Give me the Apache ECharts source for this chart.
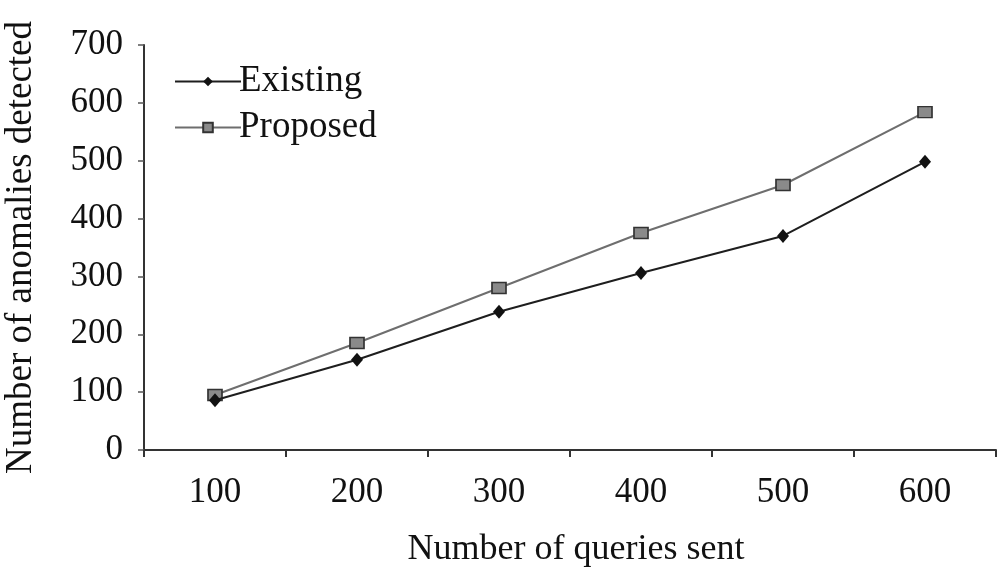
<!DOCTYPE html>
<html>
<head>
<meta charset="utf-8">
<script src="https://cdn.jsdelivr.net/npm/echarts@6/dist/echarts.min.js"></script>
<style>
  html, body { margin: 0; padding: 0; background: #fff; }
  #main { width: 1005px; height: 574px; }
</style>
</head>
<body>
<div id="main"></div>
<script>
const categories = ['100', '200', '300', '400', '500', '600'];
const existing = [86, 156, 239, 306, 370, 498];
const proposed = [95, 185, 280, 375, 458, 584];

const FONT = 'Liberation Serif';
const chart = echarts.init(document.getElementById('main'));

const option = {
  backgroundColor: '#fff',
  animation: false,
  textStyle: { fontFamily: FONT },
  grid: {
    left: 144,
    right: 9,
    top: 45,
    bottom: 124,
    containLabel: false,
    outerBoundsMode: 'none'
  },
  legend: {
    orient: 'vertical',
    left: 174,
    top: 63,
    padding: 0,
    itemWidth: 66,
    itemHeight: 12,
    itemGap: 9,
    textStyle: { fontFamily: FONT, fontSize: 37, color: '#111', padding: [0, 0, 0, -7] },
    data: ['Existing', 'Proposed']
  },
  xAxis: {
    type: 'category',
    data: categories,
    boundaryGap: true,
    name: 'Number of queries sent',
    nameLocation: 'middle',
    nameGap: 82,
    nameTextStyle: { fontFamily: FONT, fontSize: 36, color: '#111', padding: [0, 0, 0, 12] },
    axisLine: { lineStyle: { color: '#333', width: 2 } },
    axisTick: { show: true, inside: false, length: 7, lineStyle: { color: '#333', width: 2 } },
    axisLabel: { fontFamily: FONT, fontSize: 35, color: '#111', margin: 25 },
    splitLine: { show: false }
  },
  yAxis: {
    type: 'value',
    min: 0,
    max: 700,
    interval: 100,
    name: 'Number of anomalies detected',
    nameLocation: 'middle',
    nameGap: 104,
    nameTextStyle: { fontFamily: FONT, fontSize: 37, color: '#111' },
    axisLine: { show: true, lineStyle: { color: '#333', width: 2 } },
    axisTick: { show: true, inside: false, length: 6, lineStyle: { color: '#555', width: 1.5 } },
    axisLabel: { fontFamily: FONT, fontSize: 35, color: '#111', margin: 21 },
    splitLine: { show: false }
  },
  series: [
    {
      name: 'Existing',
      type: 'line',
      data: existing,
      symbol: 'diamond',
      symbolSize: [12, 14],
      itemStyle: { color: '#111' },
      lineStyle: { color: '#1e1e1e', width: 2 },
      z: 3
    },
    {
      name: 'Proposed',
      type: 'line',
      data: proposed,
      symbol: 'rect',
      symbolSize: [14, 11],
      itemStyle: { color: '#8a8a8a', borderColor: '#333', borderWidth: 1.5 },
      lineStyle: { color: '#6e6e6e', width: 2 },
      z: 2
    }
  ]
};

chart.setOption(option);
</script>
</body>
</html>
